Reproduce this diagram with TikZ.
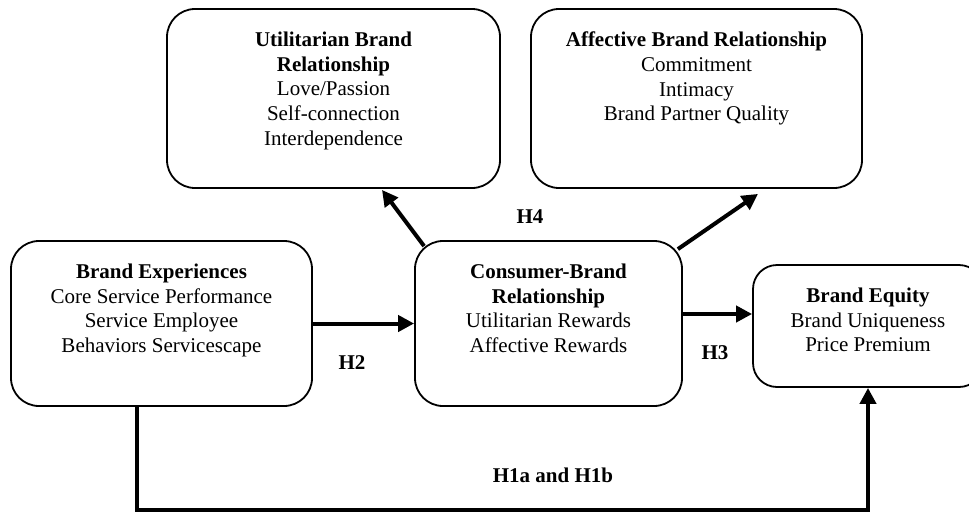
\documentclass[tikz,border=0pt]{standalone}
\usepackage{fontspec}
\setmainfont{Liberation Serif}
\usetikzlibrary{arrows.meta}
\begin{document}
\begin{tikzpicture}[x=1pt,y=-1pt,
  box/.style={draw, line width=1.8pt, rounded corners=28pt, inner sep=0pt},
  txt/.style={anchor=north, align=center, inner sep=0pt, font=\fontsize{21}{24.7}\selectfont},
  lab/.style={anchor=base, inner sep=0pt, font=\fontsize{21}{24.7}\selectfont\bfseries},
  arr/.style={line width=4pt, -{Triangle[length=16pt,width=16pt]}}]
\useasboundingbox (0,0) rectangle (969,512);

% boxes
\node[box, minimum width=333pt, minimum height=179pt] (ube) at (333.5,98.5) {};
\node[box, minimum width=331pt, minimum height=179pt] (abr) at (696.5,98.5) {};
\node[box, minimum width=301pt, minimum height=165pt] (be) at (161.5,323.5) {};
\node[box, minimum width=267pt, minimum height=165pt] (cb) at (548.5,323.5) {};
\node[box, rounded corners=24pt, minimum width=230pt, minimum height=122pt] (beq) at (868,326) {};

% texts
\node[txt] (ubet) at ([yshift=-23.7pt]ube.north) {\textbf{Utilitarian Brand}\\\textbf{Relationship}\\Love/Passion\\Self-connection\\Interdependence};
\node[txt] (abrt) at ([yshift=-23.7pt]abr.north) {\textbf{Affective Brand Relationship}\\Commitment\\Intimacy\\Brand Partner Quality};
\node[txt] (bet) at ([yshift=-23.7pt]be.north) {\textbf{Brand Experiences}\\Core Service Performance\\Service Employee\\Behaviors Servicescape};
\node[txt] (cbt) at ([yshift=-23.7pt]cb.north) {\textbf{Consumer-Brand}\\\textbf{Relationship}\\Utilitarian Rewards\\Affective Rewards};
\node[txt] (beqt) at ([yshift=-23.7pt]beq.north) {\textbf{Brand Equity}\\Brand Uniqueness\\Price Premium};

% connectors
\draw[arr] (be.east) -- (cb.west);
\draw[arr] ([yshift=9.5pt]cb.east) coordinate (h3s) -- (h3s -| beq.west);
\coordinate (bl) at (137,510);
\draw[arr] (be.south -| bl) -- (bl) -| (beq.south);
\draw[arr] ([shift={(10,6)}]cb.north west) -- ([xshift=48.5pt,yshift=-1pt]ube.south);
\draw[arr] ([shift={(-5,9)}]cb.north east) -- ([xshift=61.5pt,yshift=-5pt]abr.south);

% labels
\node[lab] (h4) at (530,223) {H4};
\node[lab] (h2) at (352,369) {H2};
\node[lab] (h3) at (715,359) {H3};
\node[lab] (h1) at (553,482) {H1a and H1b};
\end{tikzpicture}
\end{document}
